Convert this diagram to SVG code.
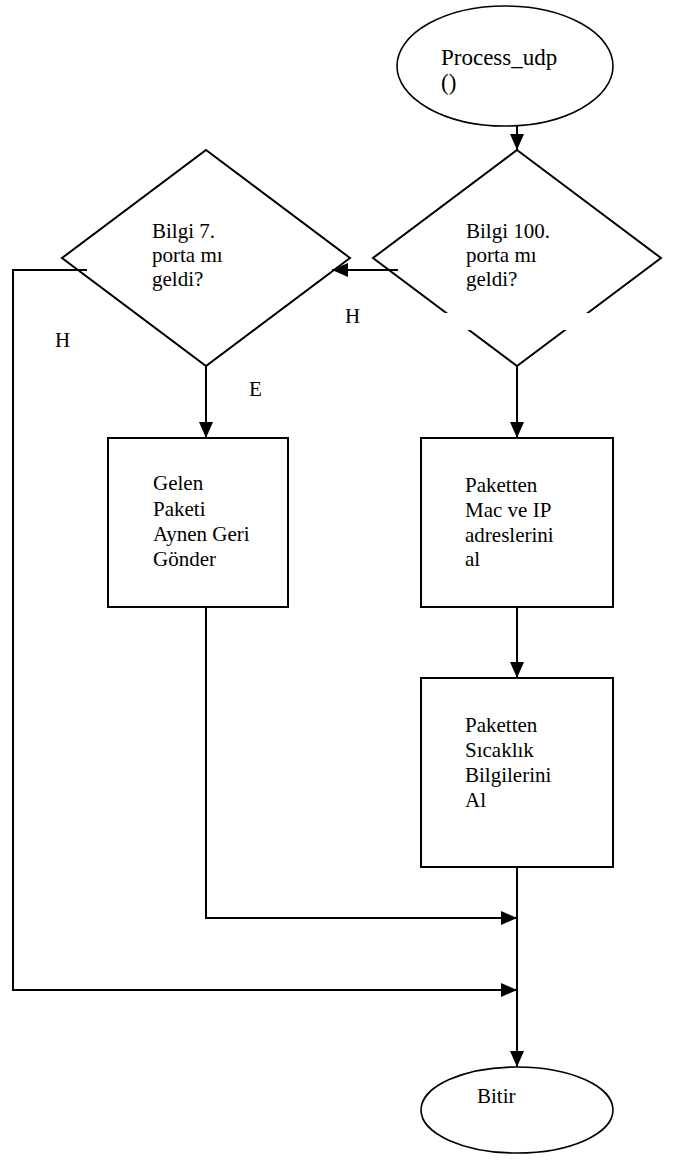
<svg xmlns="http://www.w3.org/2000/svg" width="674" height="1160" viewBox="0 0 674 1160">
<style>
  .shape { fill: #ffffff; stroke: #000000; stroke-width: 2; }
  .ell { fill: #ffffff; stroke: #000000; stroke-width: 1.6; }
  .conn { fill: none; stroke: #000000; stroke-width: 2; }
  .t { font-family: "Liberation Serif", "Times New Roman", serif; font-size: 21px; fill: #000000; }
  .big { font-size: 23px; }
</style>
<defs>
  <marker id="arr" markerUnits="userSpaceOnUse" markerWidth="16" markerHeight="14" viewBox="0 0 16 14" refX="16" refY="7" orient="auto">
    <path d="M0,0 L16,7 L0,14 Z" fill="#000000"/>
  </marker>
</defs>
<rect x="0" y="0" width="674" height="1160" fill="#ffffff"/>

<g id="connectors">
  <line class="conn" x1="517" y1="126" x2="517" y2="150" marker-end="url(#arr)"/>
  <line class="conn" x1="398" y1="270" x2="332" y2="270" marker-end="url(#arr)"/>
  <polyline class="conn" points="87,270 13,270 13,990 517,990" marker-end="url(#arr)"/>
  <line class="conn" x1="206" y1="366" x2="206" y2="438" marker-end="url(#arr)"/>
  <line class="conn" x1="517" y1="366" x2="517" y2="438" marker-end="url(#arr)"/>
  <line class="conn" x1="517" y1="607" x2="517" y2="678" marker-end="url(#arr)"/>
  <polyline class="conn" points="206,607 206,918 517,918" marker-end="url(#arr)"/>
  <line class="conn" x1="517" y1="867" x2="517" y2="1067" marker-end="url(#arr)"/>
</g>

<g id="start">
  <ellipse class="ell" cx="505" cy="66" rx="108" ry="60"/>
  <text class="t big" x="441" y="65">Process_udp</text>
  <text class="t big" x="441" y="90">()</text>
</g>

<g id="decision100">
  <polygon class="shape" points="517,150 661,258 517,366 373,258" fill="none" style="fill:none"/>
  <rect x="438" y="313" width="162" height="17" fill="#ffffff"/>
  <text class="t" x="466" y="238">Bilgi 100.</text>
  <text class="t" x="466" y="262">porta mı</text>
  <text class="t" x="466" y="286">geldi?</text>
</g>

<g id="decision7">
  <polygon class="shape" points="206,150 350,258 206,366 62,258" style="fill:none"/>
  <text class="t" x="152" y="238">Bilgi 7.</text>
  <text class="t" x="152" y="262">porta mı</text>
  <text class="t" x="152" y="286">geldi?</text>
</g>

<g id="labels">
  <text class="t" x="55" y="347">H</text>
  <text class="t" x="345" y="323">H</text>
  <text class="t" x="249" y="396">E</text>
</g>

<g id="box-echo">
  <rect class="shape" x="108" y="438" width="180" height="169"/>
  <text class="t" x="153" y="490">Gelen</text>
  <text class="t" x="153" y="516">Paketi</text>
  <text class="t" x="153" y="541">Aynen Geri</text>
  <text class="t" x="153" y="566">Gönder</text>
</g>

<g id="box-mac">
  <rect class="shape" x="421" y="438" width="192" height="169"/>
  <text class="t" x="465" y="492">Paketten</text>
  <text class="t" x="465" y="517">Mac ve IP</text>
  <text class="t" x="465" y="542">adreslerini</text>
  <text class="t" x="465" y="566">al</text>
</g>

<g id="box-temp">
  <rect class="shape" x="421" y="678" width="192" height="189"/>
  <text class="t" x="465" y="732">Paketten</text>
  <text class="t" x="465" y="757">Sıcaklık</text>
  <text class="t" x="465" y="782">Bilgilerini</text>
  <text class="t" x="465" y="807">Al</text>
</g>

<g id="end">
  <ellipse class="ell" cx="517" cy="1110" rx="96" ry="43"/>
  <text class="t" x="477" y="1103">Bitir</text>
</g>
</svg>
